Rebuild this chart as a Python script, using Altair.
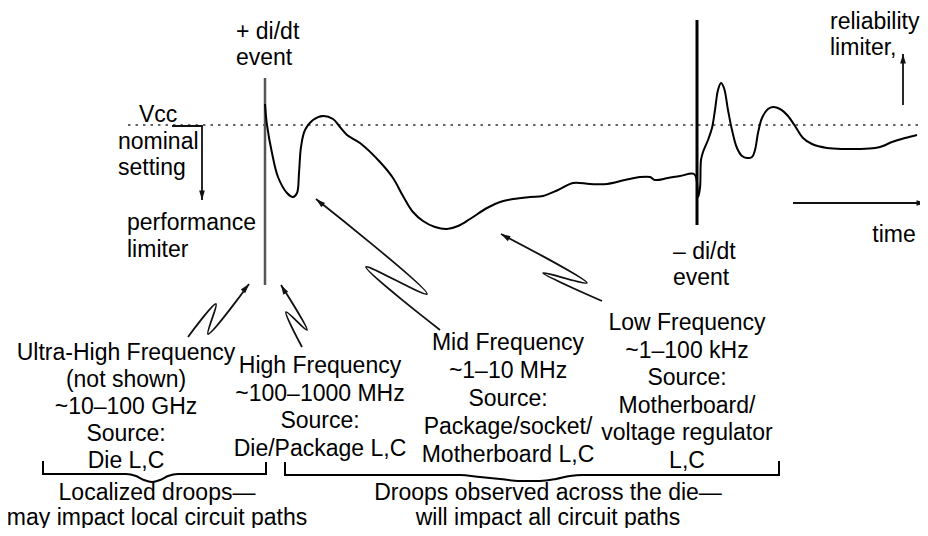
import math
import altair as alt
import pandas as pd

# ---- waveform (time position, voltage level) ----
wave_t = [265, 267, 272, 278, 287, 293, 297, 299, 301, 305, 313, 323, 333, 340, 347, 360,
          380, 393, 403, 413, 423, 435, 447, 458, 470, 487, 500, 513, 530, 543, 558, 573,
          590, 607, 625, 640, 650, 655, 668, 680, 694, 697, 698, 700, 701, 703, 708, 712,
          715, 718, 721, 724, 728, 732, 737, 742, 747, 752, 755, 758, 762, 768, 773, 780,
          788, 795, 803, 812, 827, 845, 860, 875, 883, 892, 905, 917]
wave_v = [104, 125, 153, 177, 193, 197, 193, 173, 147, 130, 120, 116, 119, 127, 135, 143,
          162, 178, 196, 212, 221, 227, 229, 226, 219, 208, 202, 199, 197, 196, 190, 183,
          184, 184, 180, 177, 177, 180, 178, 176, 174, 182, 197, 188, 160, 152, 140, 128,
          110, 90, 83, 88, 110, 130, 148, 156, 158, 157, 150, 133, 118, 109, 107, 109,
          116, 126, 138, 144, 148, 149, 149, 148, 146, 142, 138, 135]

# ---- reference lines ----
vcc_level = 125
vcc_from, vcc_to = 128, 926
event_x = [265, 697]
event_top = [78, 20]
event_bottom = [285, 225]

# ---- straight arrows ----
arrow_names = ["nominal", "reliability", "time"]
arrow_x = [[172, 202, 202], [903, 903], [793, 926]]
arrow_y = [[126, 126, 200], [105, 54], [203, 203]]

# ---- squiggle arrows (frequency labels -> waveform) ----
squig_names = ["ultra", "high", "mid", "low"]
squig_x = [[188, 216, 208, 249], [302, 286, 307, 281], [440, 366, 427, 316], [602, 543, 587, 501]]
squig_y = [[337, 304, 334, 284], [347, 312, 330, 285], [330, 267, 294, 199], [301, 273, 283, 234]]

# ---- brackets ----
bracket_x = [[43, 43, 126, 136, 144, 152, 160, 168, 178, 266, 266],
             [285, 285, 460, 480, 500, 520, 540, 556, 570, 582, 779, 779]]
bracket_y = [[461, 474, 474, 476, 480, 482, 480, 476, 474, 474, 462],
             [462, 475, 475, 477, 479, 481, 481, 479, 476, 475, 475, 461]]

# ---- labels ----
label_lines = [
    ["Ultra-High Frequency", "(not shown)", "~10–100 GHz", "Source:", "Die L,C"],
    ["High Frequency", "~100–1000 MHz", "Source:", "Die/Package L,C"],
    ["Mid Frequency", "~1–10 MHz", "Source:", "Package/socket/", "Motherboard L,C"],
    ["Low Frequency", "~1–100 kHz", "Source:", "Motherboard/", "voltage regulator", "L,C"],
    ["Localized droops—", "may impact local circuit paths"],
    ["Droops observed across the die—", "will impact all circuit paths"],
    ["time"],
    ["+ di/dt", "event"],
    ["– di/dt", "event"],
    ["reliability", "limiter,"],
    ["Vcc"],
    ["nominal", "setting"],
    ["performance", "limiter"],
]
label_x = [126, 320, 508, 687, 157, 548, 894, 236, 673, 830, 139, 118, 127]
label_y = [353, 366, 343, 323, 493, 493, 235, 32, 252, 22, 115, 142, 223]
label_gap = [27, 27.7, 28, 27.6, 24.5, 24.5, 27, 26, 26, 26, 27, 26, 27]
label_align = ["center"] * 7 + ["left"] * 6

# ---------- build tables ----------
wave = pd.DataFrame({"x": wave_t, "y": wave_v, "i": range(len(wave_t))})
vcc = pd.DataFrame({"x": [vcc_from], "x2": [vcc_to], "y": [vcc_level]})
ev = pd.DataFrame({"x": event_x, "y": event_top, "y2": event_bottom})


def paths(names, xs_all, ys_all):
    rows, heads = [], []
    for name, xs, ys in zip(names, xs_all, ys_all):
        for k, (a, b) in enumerate(zip(xs, ys)):
            rows.append({"arrow": name, "x": a, "y": b, "i": k})
        dx, dy = xs[-1] - xs[-2], ys[-1] - ys[-2]
        heads.append({"x": xs[-1], "y": ys[-1], "angle": math.degrees(math.atan2(dx, -dy)) % 360})
    return pd.DataFrame(rows), heads


arrows, h1 = paths(arrow_names, arrow_x, arrow_y)
squigs, h2 = paths(squig_names, squig_x, squig_y)
arrowheads = pd.DataFrame(h1 + h2)

brows = []
for b, (xs, ys) in enumerate(zip(bracket_x, bracket_y)):
    for k, (a, c) in enumerate(zip(xs, ys)):
        brows.append({"b": b, "x": a, "y": c, "i": k})
brackets = pd.DataFrame(brows)

trows = []
for lines, x0, y0, g, al in zip(label_lines, label_x, label_y, label_gap, label_align):
    for k, t in enumerate(lines):
        trows.append({"text": t, "x": x0, "y": y0 + k * g, "align": al})
texts = pd.DataFrame(trows)

X = lambda f="x": alt.X(f"{f}:Q", scale=alt.Scale(domain=[8, 920], nice=False, zero=False), axis=None)
Y = lambda f="y": alt.Y(f"{f}:Q", scale=alt.Scale(domain=[8, 528], nice=False, zero=False, reverse=True), axis=None)

vcc_line = alt.Chart(vcc).mark_rule(color="#333", strokeWidth=1.5, strokeDash=[2.5, 5]).encode(
    x=X(), x2="x2:Q", y=Y())

ev_plus = alt.Chart(ev.iloc[[0]]).mark_rule(color="#555", strokeWidth=2.5).encode(
    x=X(), y=Y(), y2="y2:Q")
ev_minus = alt.Chart(ev.iloc[[1]]).mark_rule(color="#000", strokeWidth=3).encode(
    x=X(), y=Y(), y2="y2:Q")

wave_line = alt.Chart(wave).mark_line(color="#000", strokeWidth=2, interpolate="catmull-rom").encode(
    x=X(), y=Y(), order="i:Q")

arrow_lines = alt.Chart(arrows).mark_line(color="#111", strokeWidth=1.8, strokeJoin="miter").encode(
    x=X(), y=Y(), detail="arrow:N", order="i:Q")

squig_lines = alt.Chart(squigs).mark_line(color="#111", strokeWidth=1.8, interpolate="catmull-rom").encode(
    x=X(), y=Y(), detail="arrow:N", order="i:Q")

heads_layer = alt.Chart(arrowheads).mark_point(
    shape="M0,0L0.6,2L-0.6,2Z", filled=True, color="#111", opacity=1, size=90, strokeWidth=0
).encode(x=X(), y=Y(), angle=alt.Angle("angle:Q", scale=None))

bracket_lines = alt.Chart(brackets).mark_line(color="#000", strokeWidth=2, interpolate="monotone").encode(
    x=X(), y=Y(), detail="b:N", order="i:Q")

text_c = alt.Chart(texts[texts["align"] == "center"]).mark_text(
    font="Liberation Sans", fontSize=23, color="#000", align="center", baseline="middle"
).encode(x=X(), y=Y(), text="text:N")
text_l = alt.Chart(texts[texts["align"] == "left"]).mark_text(
    font="Liberation Sans", fontSize=23, color="#000", align="left", baseline="middle"
).encode(x=X(), y=Y(), text="text:N")

chart = alt.layer(
    vcc_line, ev_plus, ev_minus, wave_line, bracket_lines, arrow_lines, squig_lines,
    heads_layer, text_c, text_l
).properties(
    width=912, height=520, autosize=alt.AutoSizeParams(type="none"), padding=0,
    background="white"
).configure_view(stroke=None)

chart.save("out.html", embed_options={"renderer": "svg", "actions": False})
